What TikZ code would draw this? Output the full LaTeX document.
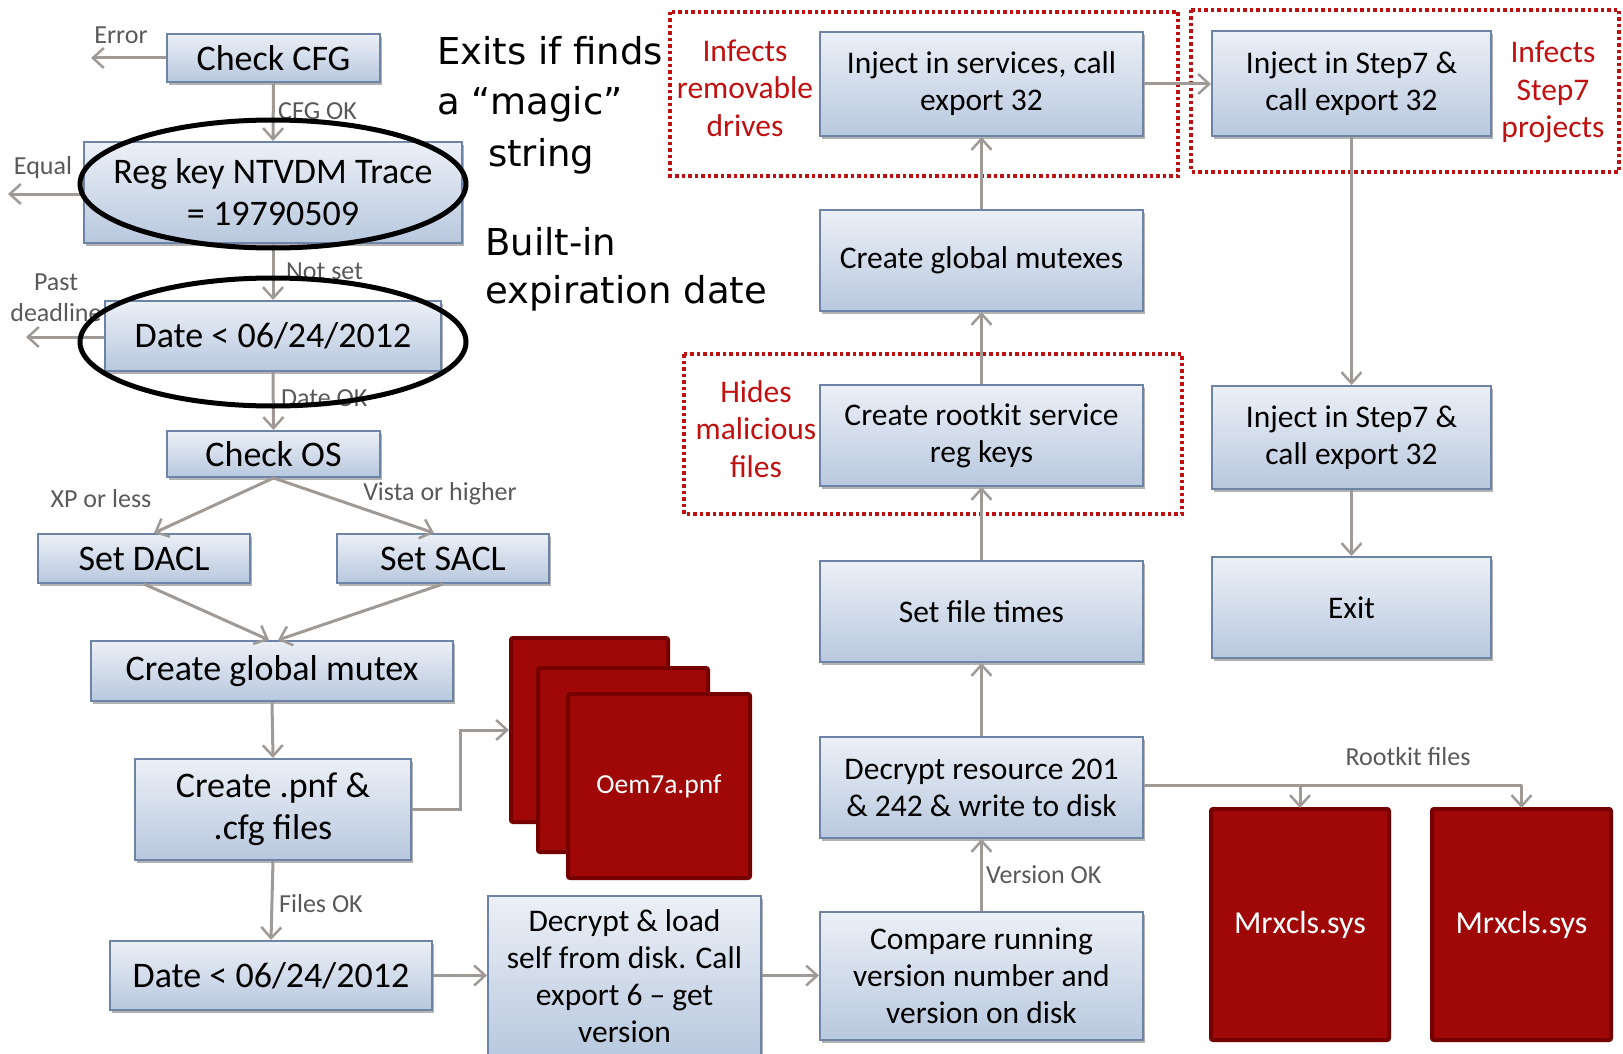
\documentclass[tikz,border=0pt]{standalone}
\usepackage{fontspec}
\setmainfont{Carlito}
\newfontfamily\notefont{DejaVu Sans}
\usetikzlibrary{arrows.meta,shadows,calc}

\definecolor{boxline}{RGB}{110,132,166}
\definecolor{boxtop}{RGB}{236,240,247}
\definecolor{boxbot}{RGB}{184,200,222}
\definecolor{flow}{RGB}{160,154,150}
\definecolor{filered}{RGB}{160,8,8}
\definecolor{fileedge}{RGB}{118,0,0}
\definecolor{notered}{RGB}{192,16,16}
\definecolor{labelgray}{RGB}{89,89,89}

\tikzset{
  stepbox/.style={draw=boxline, line width=2pt, top color=boxtop, bottom color=boxbot,
    drop shadow={shadow xshift=2pt, shadow yshift=-3pt, opacity=0.3, fill=black},
    align=center, inner sep=0pt, text=black},
  bigtxt/.style={font=\fontsize{36}{42}\selectfont},
  midtxt/.style={font=\fontsize{31.5}{37}\selectfont},
  filebox/.style={fill=filered, draw=fileedge, line width=4pt, rounded corners=2pt,
    inner sep=0pt, text=white, align=center},
  flowarrow/.style={draw=flow, line width=3pt,
    -{Straight Barb[length=11pt,width=20pt,line width=2.5pt]}},
  flowline/.style={draw=flow, line width=3pt},
  graylabel/.style={text=labelgray, font=\fontsize{26}{31}\selectfont, align=center, inner sep=0pt},
  redlabel/.style={text=notered, font=\fontsize{31.5}{37.5}\selectfont, align=center, inner sep=0pt},
  zone/.style={draw=notered, line width=4pt, dash pattern=on 3.5pt off 3pt},
  notetxt/.style={font=\notefont\fontsize{37}{50}\selectfont, anchor=base west, inner sep=0pt},
  marker/.style={draw=black, line width=5pt}
}

\begin{document}
\begin{tikzpicture}[x=1pt, y=-1pt]
\useasboundingbox (0,0) rectangle (1623,1054);

% ---------- left column: start-up checks ----------
\node[stepbox, bigtxt, minimum width=213pt, minimum height=48pt] (cfg) at (273.5,58) {Check CFG};
\node[stepbox, bigtxt, minimum width=378pt, minimum height=101pt] (reg) at (273,192.5) {Reg key NTVDM Trace\\= 19790509};
\node[stepbox, bigtxt, minimum width=336pt, minimum height=70pt] (date1) at (273,336) {Date < 06/24/2012};
\node[stepbox, bigtxt, minimum width=213pt, minimum height=46pt] (os) at (273.5,454) {Check OS};
\node[stepbox, bigtxt, minimum width=212pt, minimum height=49pt] (dacl) at (144,558.5) {Set DACL};
\node[stepbox, bigtxt, minimum width=212pt, minimum height=49pt] (sacl) at (443,558.5) {Set SACL};
\node[stepbox, bigtxt, minimum width=362pt, minimum height=60pt] (mutex) at (272,671) {Create global mutex};
\node[stepbox, bigtxt, minimum width=276pt, minimum height=101pt] (pnf) at (273,809.5) {Create .pnf \&\\.cfg files};
\node[stepbox, bigtxt, minimum width=322pt, minimum height=69pt] (date2) at (271,975.5) {Date < 06/24/2012};
\node[stepbox, midtxt, minimum width=273pt, minimum height=160pt] (load) at (624.5,976) {Decrypt \& load\\self from disk. Call\\export 6 -- get\\version};

% ---------- dropped .pnf files ----------
\node[filebox, minimum width=157pt, minimum height=184pt] (oemA) at (589.5,730) {};
\node[filebox, minimum width=170pt, minimum height=184pt] (oemB) at (623,760) {};
\node[filebox, minimum width=182pt, minimum height=184pt, font=\fontsize{27.5}{33}\selectfont] (oemC) at (659,786) {Oem7a.pnf};

% ---------- right part: installation ----------
\node[stepbox, midtxt, minimum width=323pt, minimum height=104pt] (svc) at (981.5,84) {Inject in services, call\\export 32};
\node[stepbox, midtxt, minimum width=323pt, minimum height=101pt] (gmutexes) at (981.5,260.5) {Create global mutexes};
\node[stepbox, midtxt, minimum width=323pt, minimum height=101pt] (rootkit) at (981.5,435.5) {Create rootkit service\\reg keys};
\node[stepbox, midtxt, minimum width=323pt, minimum height=101pt] (ftimes) at (981.5,611.5) {Set file times};
\node[stepbox, midtxt, minimum width=323pt, minimum height=101pt] (decres) at (981.5,787.5) {Decrypt resource 201\\\& 242 \& write to disk};
\node[stepbox, midtxt, minimum width=323pt, minimum height=128pt] (compare) at (981.5,976) {Compare running\\version number and\\version on disk};
\node[stepbox, midtxt, minimum width=279pt, minimum height=105pt] (stepA) at (1351.5,83.5) {Inject in Step7 \&\\call export 32};
\node[stepbox, midtxt, minimum width=279pt, minimum height=103pt] (stepB) at (1351.5,437.5) {Inject in Step7 \&\\call export 32};
\node[stepbox, midtxt, minimum width=279pt, minimum height=101pt] (exit) at (1351.5,607.5) {Exit};

\node[filebox, minimum width=178pt, minimum height=231pt, font=\fontsize{32}{38}\selectfont] (mrxA) at (1300,924.5) {Mrxcls.sys};
\node[filebox, minimum width=179pt, minimum height=231pt, font=\fontsize{32}{38}\selectfont] (mrxB) at (1521.5,924.5) {Mrxcls.sys};

% ---------- dotted zones with their notes ----------
\draw[zone] (670,12) rectangle (1178,176);
\draw[zone] (1191,10) rectangle (1619,172);
\draw[zone] (684,354) rectangle (1182,514);
\node[redlabel] (noteDrives) at (745,88) {Infects\\removable\\drives};
\node[redlabel] (noteStep) at (1553,92) {Infects\\Step7\\projects};
\node[redlabel] (noteHide) at (756,429) {Hides\\malicious\\files};

% ---------- connectors ----------
\coordinate (errEnd) at (91,58);
\coordinate (eqEnd) at (8,194);
\coordinate (pastEnd) at (26,337);
\draw[flowarrow] (cfg.west) -- (errEnd);
\draw[flowarrow] (reg.west |- eqEnd) -- (eqEnd);
\draw[flowarrow] (date1.west |- pastEnd) -- (pastEnd);

\draw[flowarrow] (cfg.south) -- (reg.north);
\draw[flowarrow] (reg.south) -- (date1.north);
\draw[flowarrow] (date1.south) -- (os.north);
\draw[flowarrow] (os.south) -- ([xshift=10pt]dacl.north);
\draw[flowarrow] (os.south) -- ([xshift=-9pt]sacl.north);
\draw[flowarrow] (dacl.south) -- ([xshift=-3pt]mutex.north);
\draw[flowarrow] (sacl.south) -- ([xshift=6pt]mutex.north);
\draw[flowarrow] (mutex.south) -- (pnf.north);
\draw[flowarrow] (pnf.south) -- (date2.north);
\coordinate (pnfBend) at (460,809.5);
\draw[flowarrow] (pnf.east) -- (pnfBend) |- (oemA.west);
\draw[flowarrow] (date2.east) -- (date2.east -| load.west);
\draw[flowarrow] (date2.east -| load.east) -- (date2.east -| compare.west);

\draw[flowarrow] (compare.north) -- (decres.south);
\draw[flowarrow] (decres.north) -- (ftimes.south);
\draw[flowarrow] (ftimes.north) -- (rootkit.south);
\draw[flowarrow] (rootkit.north) -- (gmutexes.south);
\draw[flowarrow] (gmutexes.north) -- (svc.south);
\draw[flowarrow] (svc.east) -- (svc.east -| stepA.west);
\draw[flowarrow] (stepA.south) -- (stepB.north);
\draw[flowarrow] (stepB.south) -- (exit.north);

\coordinate (rkLine) at (1300,785);
\draw[flowline] (decres.east |- rkLine) -- (mrxB.north |- rkLine);
\draw[flowarrow] (mrxA.north |- rkLine) -- ([yshift=-1pt]mrxA.north);
\draw[flowarrow] (mrxB.north |- rkLine) -- ([yshift=-1pt]mrxB.north);

% ---------- connector labels ----------
\node[graylabel] (lErr) at (121,35) {Error};
\node[graylabel, anchor=west] (lCfg) at (278,111) {CFG OK};
\node[graylabel] (lEq) at (43,168) {Equal};
\node[graylabel, anchor=west] (lNot) at (286,271) {Not set};
\node[graylabel] (lPast) at (56,298) {Past\\deadline};
\node[graylabel, anchor=west] (lDate) at (281,398) {Date OK};
\node[graylabel] (lXp) at (101,499) {XP or less};
\node[graylabel] (lVista) at (440,494) {Vista or higher};
\node[graylabel, anchor=west] (lFiles) at (279,904) {Files OK};
\node[graylabel, anchor=west] (lVer) at (986,875) {Version OK};
\node[graylabel] (lRk) at (1408,757) {Rootkit files};

% ---------- side notes and highlighted checks ----------
\node[notetxt] (n1) at (437,65) {Exits if finds};
\node[notetxt] (n2) at (437,115) {a “magic”};
\node[notetxt] (n3) at (488,167) {string};
\node[notetxt] (n4) at (485,255) {Built-in};
\node[notetxt] (n5) at (485,303) {expiration date};

\draw[marker] (273,184) ellipse [x radius=193, y radius=64];
\draw[marker] (273,342) ellipse [x radius=193, y radius=64];
\end{tikzpicture}
\end{document}
